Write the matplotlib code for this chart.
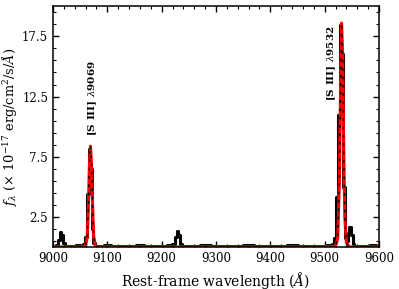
import matplotlib
matplotlib.use('Agg')
import matplotlib.pyplot as plt
import numpy as np
from matplotlib.ticker import MultipleLocator, FixedLocator

wave = [9000, 9004, 9008, 9011, 9014, 9017, 9020, 9023, 9030, 9038, 9046, 9054,
        9058, 9061, 9064, 9067, 9070, 9073, 9076, 9079, 9088, 9100, 9115, 9130,
        9145, 9160, 9175, 9190, 9205, 9215, 9222, 9226, 9229, 9232, 9235, 9238,
        9245, 9260, 9280, 9300, 9320, 9340, 9360, 9380, 9400, 9420, 9440, 9460,
        9480, 9500, 9510, 9516, 9520, 9523, 9526, 9529, 9532, 9535, 9538, 9541,
        9544, 9547, 9550, 9553, 9556, 9562, 9575, 9590, 9600]
flux = [0.15, 0.1, 0.2, 0.6, 1.3, 1.0, 0.35, 0.1, 0.15, 0.1, 0.2, 0.1,
        0.25, 0.9, 4.4, 8.2, 6.5, 1.5, 0.4, 0.15, 0.1, 0.2, 0.1, 0.15,
        0.1, 0.2, 0.1, 0.15, 0.1, 0.2, 0.3, 0.9, 1.4, 1.0, 0.3, 0.1,
        0.15, 0.1, 0.2, 0.1, 0.15, 0.1, 0.2, 0.1, 0.15, 0.1, 0.2, 0.1,
        0.15, 0.1, 0.2, 0.3, 0.8, 4.2, 11.0, 18.4, 16.0, 5.0, 0.8, 0.5,
        1.2, 1.7, 1.0, 0.3, 0.1, 0.15, 0.1, 0.2, 0.1]

# best-fit model
mwave = [9000, 9055, 9060, 9063, 9065, 9067, 9069, 9071, 9073, 9075, 9078, 9085,
         9500, 9520, 9524, 9527, 9529, 9531, 9533, 9535, 9537, 9540, 9545, 9600]
mflux = [0.05, 0.05, 0.15, 0.9, 3.2, 6.8, 8.4, 6.8, 3.2, 0.9, 0.15, 0.05,
         0.05, 0.1, 0.8, 5.5, 12.5, 18.6, 16.0, 8.0, 2.5, 0.4, 0.05, 0.05]

labels = ['[S III] $\\lambda$9069', '[S III] $\\lambda$9532']
label_x = [9073, 9513]
label_y = [9.2, 12.1]

plt.rcParams['font.family'] = 'DejaVu Serif'
plt.rcParams['mathtext.fontset'] = 'dejavuserif'

fig = plt.figure(figsize=(3.99, 2.89), dpi=100)
ax = fig.add_axes([0.1328, 0.1436, 0.8172, 0.8354])

ax.plot(wave, flux, color='black', lw=2.2, drawstyle='steps-mid')
ax.plot(mwave, mflux, color='red', lw=2.2)
ax.plot(mwave, mflux, color='black', lw=1.0, ls=(0, (2, 4)))

for t, x, y in zip(labels, label_x, label_y):
    ax.text(x, y, t, rotation=90, ha='center', va='bottom', fontsize=7.5,
            fontweight='bold')

ax.set_xlim(9000, 9600)
ax.set_ylim(0, 20)
ax.xaxis.set_major_locator(MultipleLocator(100))
ax.xaxis.set_minor_locator(MultipleLocator(20))
ax.yaxis.set_major_locator(FixedLocator([2.5, 7.5, 12.5, 17.5]))
ax.yaxis.set_minor_locator(FixedLocator(np.arange(0.5, 20, 1.0)))
ax.tick_params(which='both', direction='in', top=True, right=True, labelsize=8.5)
ax.tick_params(which='major', length=4.5, width=1)
ax.tick_params(which='minor', length=2.5, width=0.8)
for s in ax.spines.values():
    s.set_linewidth(1.1)

ax.set_xlabel('Rest-frame wavelength ($\\AA$)', fontsize=10, labelpad=3)
ax.set_ylabel('$f_\\lambda$ ($\\times$ 10$^{-17}$ erg/cm$^2$/s/$\\AA$)', fontsize=9.3,
              labelpad=2)

fig.savefig('out.png', dpi=100)
